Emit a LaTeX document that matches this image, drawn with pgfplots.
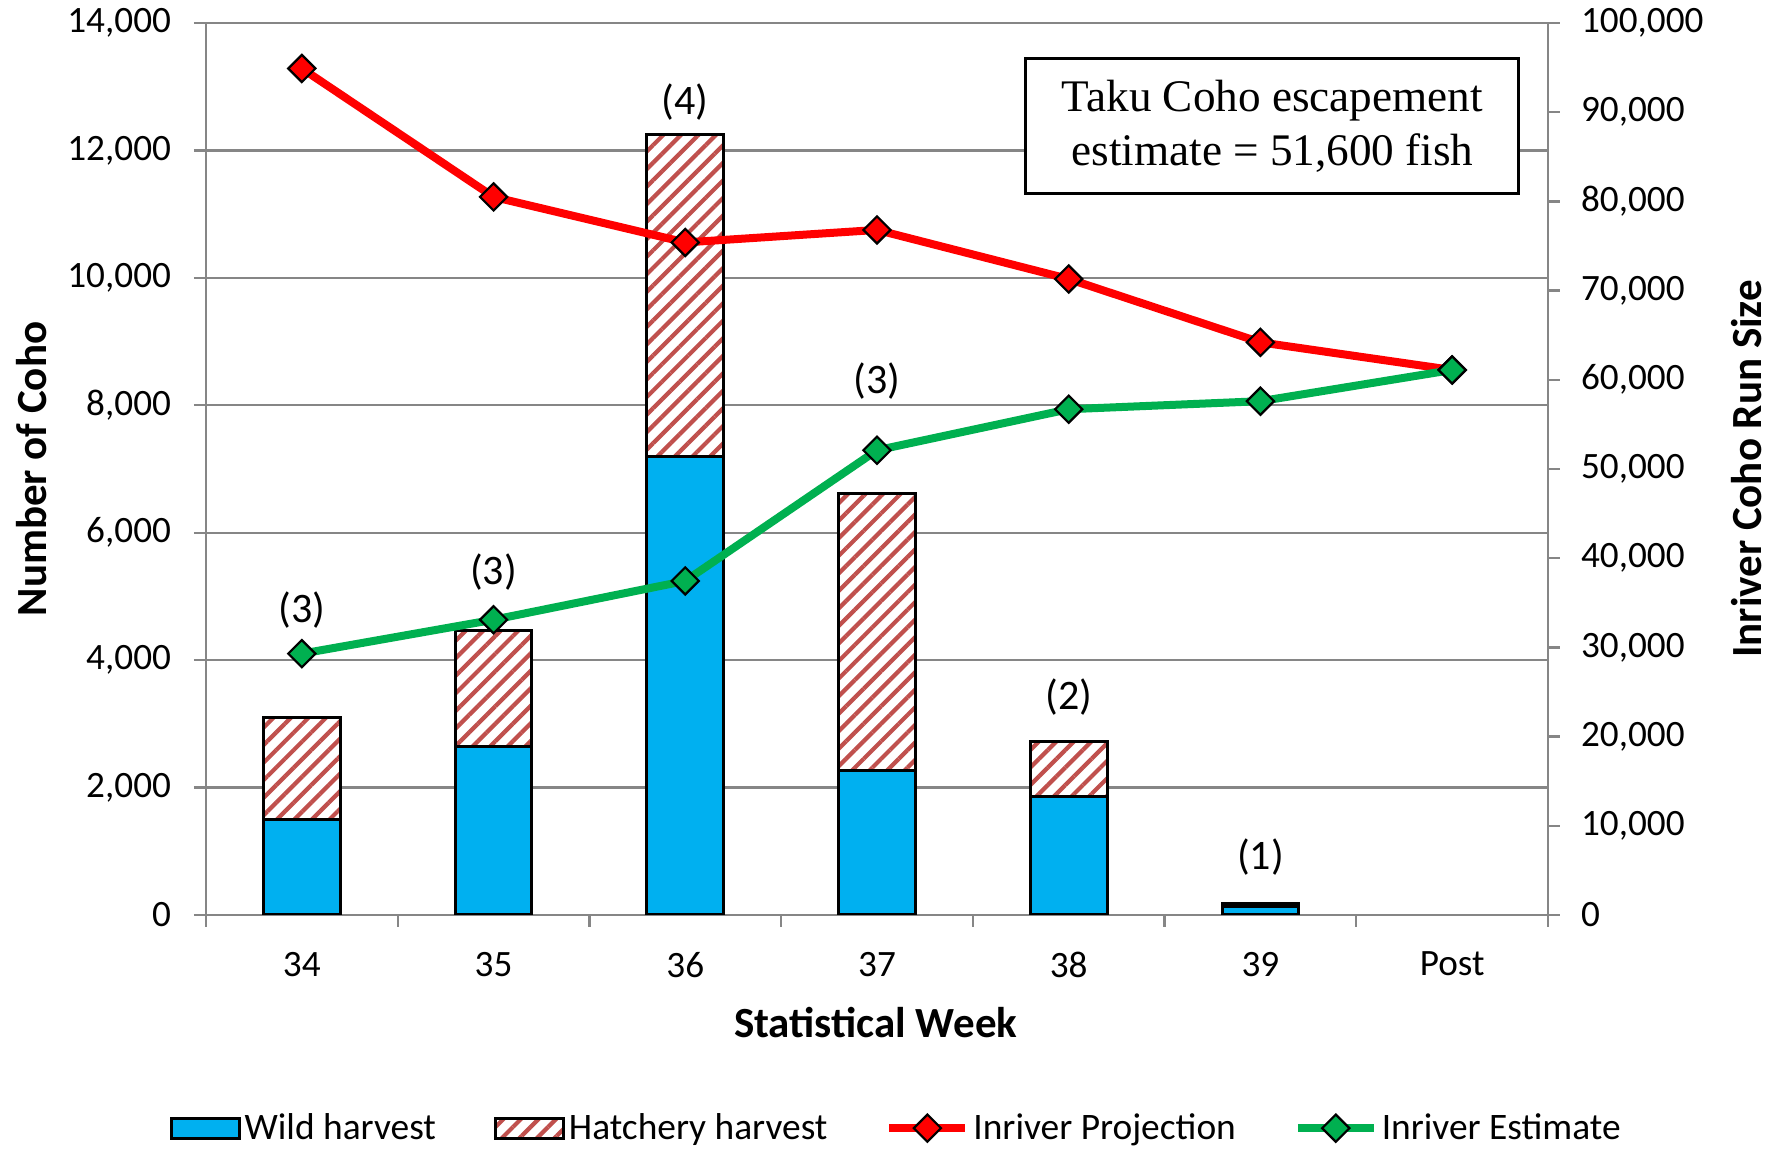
\documentclass[border=0pt]{standalone}
\usepackage{fontspec}
\setmainfont{Carlito}
\newfontfamily\boxfont{Liberation Serif}
\usepackage{pgfplots}
\pgfplotsset{compat=1.18}
\usetikzlibrary{patterns.meta}
\definecolor{wildblue}{HTML}{00B0F0}
\definecolor{hatchred}{HTML}{C0504D}
\definecolor{projred}{HTML}{FF0000}
\definecolor{estgreen}{HTML}{00B050}
\definecolor{axgray}{HTML}{868686}
\tikzset{hatch/.style={fill=white, postaction={pattern={Lines[angle=45,distance=6.2pt,line width=2.1pt]}, pattern color=hatchred}}}
\pgfplotsset{
  common/.style={
    at={(0,0)}, anchor=south west,
    scale only axis, width=671pt, height=446pt,
    xmin=-0.5, xmax=6.5,
    axis line style={axgray, line width=1.2pt},
    tick style={axgray, line width=1.2pt},
    major tick length=6pt, tick align=outside,
    scaled y ticks=false,
    /pgf/number format/fixed,
    /pgf/number format/precision=0,
    /pgf/number format/1000 sep={,},
    /pgf/number format/assume math mode=true,
    tick label style={font=\fontsize{18.6}{22}\selectfont},
    label style={font=\bfseries\fontsize{21.5}{26}\selectfont},
  },
  linelegend/.style={legend image code/.code={\draw[##1, mark repeat=2, mark phase=2] plot coordinates {(0pt,0pt) (19pt,0pt) (38pt,0pt)};}},
}
\begin{document}
\begin{tikzpicture}
\path[use as bounding box] (-103pt,-117pt) rectangle (788pt,457.5pt);
\begin{axis}[
  common,
  ymin=0, ymax=14000,
  ybar stacked, bar width=0.4,
  xtick={-0.5,0.5,...,6.5}, x tick label as interval,
  xticklabels={34,35,36,37,38,39,Post},
  xticklabel style={yshift=-9pt},
  yticklabel style={xshift=-8pt},
  ytick={0,2000,...,14000},
  ymajorgrids, grid style={axgray, line width=1.2pt},
  xtick pos=bottom, ytick pos=left,
  xlabel={Statistical Week},
  ylabel={Number of Coho},
  xlabel style={at={(axis description cs:0.499,-0.121)}, anchor=center},
  ylabel style={at={(axis description cs:-0.1297,0.5)}, anchor=center},
]
\addplot[fill=wildblue, draw=black, line width=1.5pt] coordinates {(0,1500) (1,2640) (2,7200) (3,2270) (4,1860) (5,130)};
\addplot[hatch, draw=black, line width=1.5pt]
  coordinates {(0,1600) (1,1820) (2,5050) (3,4350) (4,870) (5,50)};
\end{axis}
\begin{axis}[
  common,
  ymin=0, ymax=100000,
  axis x line=none, axis y line*=right,
  ytick={0,10000,20000,30000,40000,50000,60000,70000,80000,90000,100000},
  yticklabel style={xshift=7pt},
  ylabel={Inriver Coho Run Size},
  ylabel style={at={(axis description cs:1.1483,0.5)}, anchor=center},
  clip=false,
  legend columns=4,
  legend style={at={(0.515,-0.239)}, anchor=center, draw=none, fill=none,
    font=\fontsize{18.7}{22}\selectfont, nodes={inner sep=2pt},
    /tikz/every even column/.append style={column sep=27pt}},
]
\addlegendimage{legend image code/.code={\draw[fill=wildblue, draw=black, line width=1.5pt] (0pt,-5pt) rectangle (34pt,5pt);}}
\addlegendentry{Wild harvest}
\addlegendimage{legend image code/.code={\draw[hatch, draw=black, line width=1.5pt] (0pt,-5pt) rectangle (34pt,5pt);}}
\addlegendentry{Hatchery harvest}
\addplot[projred, line width=4pt, mark=square*, mark size=4.8pt,
  mark options={rotate=45, fill=projred, draw=black, line width=1.1pt}, linelegend]
  coordinates {(0,94900) (1,80500) (2,75400) (3,76800) (4,71300) (5,64200) (6,61100)};
\addlegendentry{Inriver Projection}
\addplot[estgreen, line width=4pt, mark=square*, mark size=4.8pt,
  mark options={rotate=45, fill=estgreen, draw=black, line width=1.1pt}, linelegend]
  coordinates {(0,29300) (1,33100) (2,37450) (3,52100) (4,56700) (5,57600) (6,61100)};
\addlegendentry{Inriver Estimate}
\node[font=\fontsize{21}{25}\selectfont] at (axis cs:0,34140) {(3)};
\node[font=\fontsize{21}{25}\selectfont] at (axis cs:1,38470) {(3)};
\node[font=\fontsize{21}{25}\selectfont] at (axis cs:2,91090) {(4)};
\node[font=\fontsize{21}{25}\selectfont] at (axis cs:3,59870) {(3)};
\node[font=\fontsize{21}{25}\selectfont] at (axis cs:4,24460) {(2)};
\node[font=\fontsize{21}{25}\selectfont] at (axis cs:5,6500) {(1)};
\node[draw=black, line width=1.5pt, fill=white, align=center, minimum width=246.5pt, minimum height=67.5pt,
  font=\boxfont\fontsize{22.6}{26.7}\selectfont] at (rel axis cs:0.7947,0.884) {Taku Coho escapement\\estimate = 51,600 fish};
\end{axis}
\end{tikzpicture}
\end{document}
